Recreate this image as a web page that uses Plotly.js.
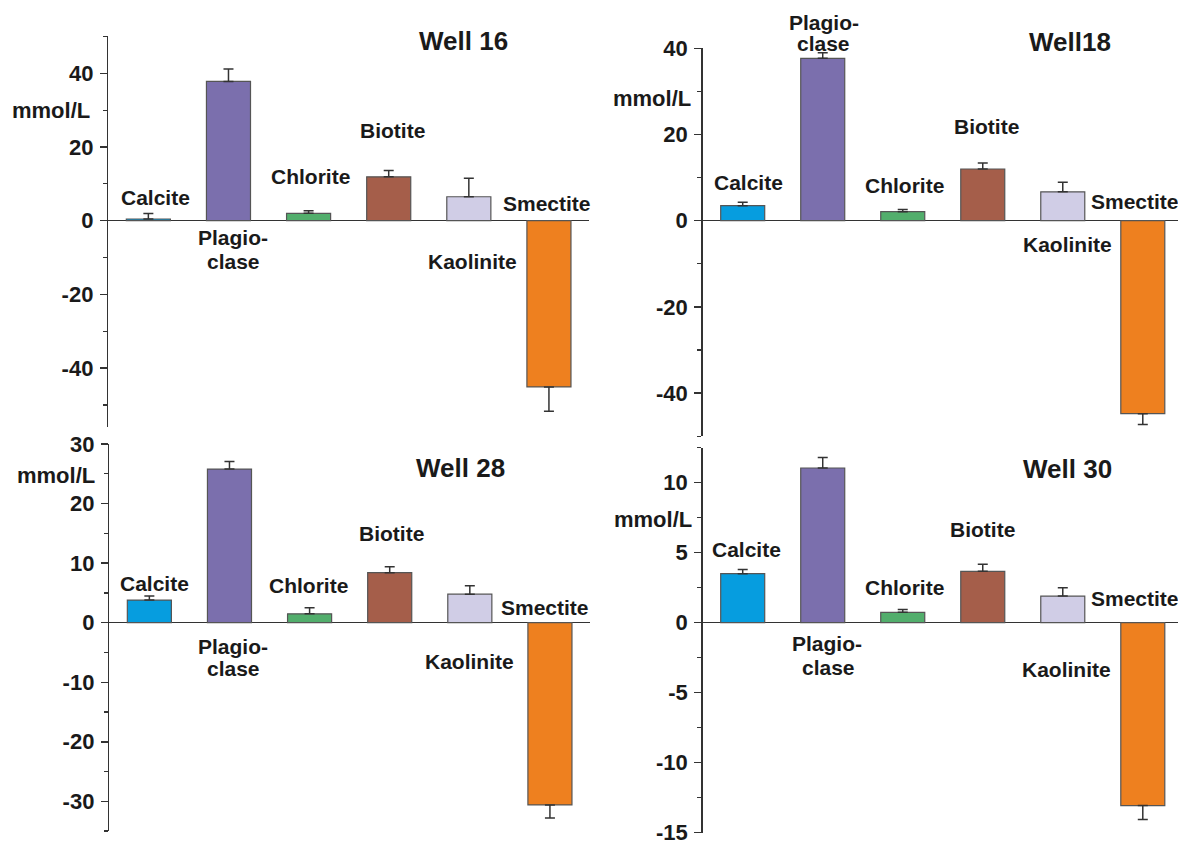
<!DOCTYPE html>
<html>
<head>
<meta charset="utf-8">
<script src="https://cdn.plot.ly/plotly-3.0.1.min.js"></script>
<style>
  html, body { margin: 0; padding: 0; background: #fff; }
  #chart { width: 1178px; height: 845px; }
</style>
</head>
<body>
<div id="chart"></div>
<script>
// Mineral categories (bar order is the same in every well)
const categories = ['Calcite', 'Plagioclase', 'Chlorite', 'Biotite', 'Kaolinite', 'Smectite'];
const barColors = ['#069ddf', '#7b6fad', '#52ae6c', '#a55e4a', '#d0cde6', '#ee801f'];

// Mass-balance results, mmol/L, with error (one-sided, away from zero)
const well16 = [0.46, 37.8, 2.0, 11.9, 6.5, -45.1];
const well16Err = [1.5, 3.4, 0.7, 1.7, 5.0, 6.6];

const well18 = [3.5, 37.7, 2.1, 12.0, 6.7, -44.8];
const well18Err = [0.8, 1.3, 0.5, 1.4, 2.2, 2.5];

const well28 = [3.8, 25.8, 1.5, 8.4, 4.8, -30.6];
const well28Err = [0.7, 1.3, 1.0, 1.0, 1.4, 2.2];

const well30 = [3.5, 11.05, 0.74, 3.67, 1.9, -13.07];
const well30Err = [0.3, 0.75, 0.2, 0.5, 0.6, 1.0];

// y tick labels per panel
const ticks16 = [-40, -20, 0, 20, 40];
const ticks18 = [-40, -20, 0, 20, 40];
const ticks28 = [-30, -20, -10, 0, 10, 20, 30];
const ticks30 = [-15, -10, -5, 0, 5, 10];

const panelTitles = ['Well 16', 'Well18', 'Well 28', 'Well 30'];
const unitLabel = 'mmol/L';

// ---- layout helpers (page is 1178 x 845 px) ----
const W = 1178, H = 845;
const fx = px => px / W;
const fy = py => 1 - py / H;

const FONT = 'Liberation Sans, Arial, Helvetica, sans-serif';
const INK = '#1a1a1a';
const AXIS = '#333333';

function barTrace(values, errs, xa, ya) {
  return {
    type: 'bar',
    x: categories,
    y: values,
    xaxis: xa,
    yaxis: ya,
    width: 0.55,
    marker: { color: barColors, line: { color: '#555555', width: 1.2 } },
    error_y: {
      type: 'data',
      symmetric: false,
      array: values.map((v, i) => (v >= 0 ? errs[i] : 0)),
      arrayminus: values.map((v, i) => (v < 0 ? errs[i] : 0)),
      color: AXIS,
      thickness: 1.5,
      width: 5
    },
    hoverinfo: 'x+y',
    showlegend: false
  };
}

const data = [
  barTrace(well16, well16Err, 'x', 'y'),
  barTrace(well18, well18Err, 'x2', 'y2'),
  barTrace(well28, well28Err, 'x3', 'y3'),
  barTrace(well30, well30Err, 'x4', 'y4')
];

function xAxis(domainPx, range, anchor) {
  return {
    domain: [fx(domainPx[0]), fx(domainPx[1])],
    range: range,
    type: 'category',
    anchor: anchor,
    visible: false,
    fixedrange: true
  };
}

// minor tick positions between range ends
function minorVals(range, step) {
  const out = [];
  const start = Math.ceil(range[0] / step - 1e-9) * step;
  for (let v = start; v <= range[1] + 1e-9; v += step) out.push(+v.toFixed(4));
  return out;
}

function yAxis(domainPx, range, tickVals, minorStep, anchor) {
  return {
    domain: [fy(domainPx[1]), fy(domainPx[0])],
    range: range,
    anchor: anchor,
    showgrid: false,
    showline: true,
    linecolor: AXIS,
    linewidth: 1.5,
    zeroline: true,
    zerolinecolor: AXIS,
    zerolinewidth: 1.5,
    ticks: 'outside',
    ticklen: 7,
    tickwidth: 1.5,
    tickcolor: AXIS,
    tickmode: 'array',
    tickvals: tickVals,
    ticktext: tickVals.map(v => String(v)),
    ticklabelstandoff: 2,
    ticklabeloverflow: 'allow',
    tickfont: { family: FONT, size: 22, color: INK, weight: 'bold' },
    minor: {
      tickmode: 'array',
      tickvals: minorVals(range, minorStep),
      ticks: 'outside', ticklen: 4, tickwidth: 1.2, tickcolor: AXIS, showgrid: false
    },
    fixedrange: true
  };
}

const layout = {
  width: W,
  height: H,
  autosize: false,
  margin: { l: 0, r: 0, t: 0, b: 0, pad: 0 },
  paper_bgcolor: '#ffffff',
  plot_bgcolor: 'rgba(0,0,0,0)',
  font: { family: FONT, color: INK },
  bargap: 0,

  xaxis: xAxis([108.3, 589], [-0.5, 5.5], 'y'),
  yaxis: yAxis([36.45, 427.1], [-56, 50], ticks16, 10, 'x'),

  xaxis2: xAxis([702.7, 1178], [-0.5, 5.44], 'y2'),
  yaxis2: yAxis([48.3, 436.2], [-50.02, 40.02], ticks18, 10, 'x2'),

  xaxis3: xAxis([109.3, 590], [-0.5, 5.5], 'y3'),
  yaxis3: yAxis([444, 831.2], [-35.02, 30.02], ticks28, 5, 'x3'),

  xaxis4: xAxis([702.7, 1178], [-0.5, 5.44], 'y4'),
  yaxis4: yAxis([447.7, 832.9], [-15.02, 12.5], ticks30, 2.5, 'x4'),

  annotations: []
};

// text placement per panel: [x, y] page pixels of each label's centre
const labelSpots = [
  { title: [463, 41], unit: [51, 111],
    Calcite: [155, 197], Plagio: [233, 238], clase: [233, 262], Chlorite: [310, 177],
    Biotite: [392, 131], Kaolinite: [472, 262], Smectite: [547, 204] },
  { title: [1070, 42], unit: [652, 98],
    Calcite: [749, 183], Plagio: [824, 22], clase: [823, 43], Chlorite: [904, 185],
    Biotite: [986, 126], Kaolinite: [1067, 245], Smectite: [1135, 201] },
  { title: [461, 468], unit: [56, 475],
    Calcite: [154, 583], Plagio: [233, 646], clase: [233, 668], Chlorite: [308, 585],
    Biotite: [391, 533], Kaolinite: [469, 661], Smectite: [545, 607] },
  { title: [1067, 469], unit: [653, 519],
    Calcite: [746, 549], Plagio: [827, 643], clase: [828, 667], Chlorite: [904, 587],
    Biotite: [982, 529], Kaolinite: [1066, 669], Smectite: [1135, 598] }
];

function addText(text, pos, size) {
  layout.annotations.push({
    text: text,
    xref: 'paper', yref: 'paper',
    x: fx(pos[0]), y: fy(pos[1]),
    xanchor: 'center', yanchor: 'middle',
    showarrow: false,
    font: { family: FONT, size: size, color: INK, weight: 'bold' }
  });
}

labelSpots.forEach((s, p) => {
  addText(panelTitles[p], s.title, 26);
  addText(unitLabel, s.unit, 22);
  addText(categories[0], s.Calcite, 21);
  // long name split over two lines
  addText(categories[1].slice(0, 6) + '-', s.Plagio, 21);
  addText(categories[1].slice(6), s.clase, 21);
  addText(categories[2], s.Chlorite, 21);
  addText(categories[3], s.Biotite, 21);
  addText(categories[4], s.Kaolinite, 21);
  addText(categories[5], s.Smectite, 21);
});

Plotly.newPlot('chart', data, layout, { staticPlot: true, displayModeBar: false });
</script>
</body>
</html>
